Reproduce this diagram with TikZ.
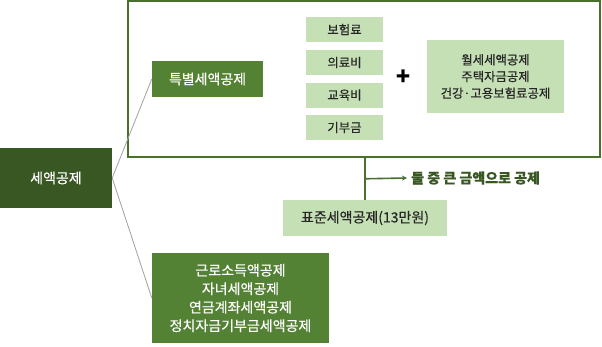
\documentclass[tikz,border=0pt]{standalone}
\usepackage{fontspec}
\setmainfont[FakeBold=0.35]{Noto Sans CJK KR}
\usetikzlibrary{
  arrows.meta,
  positioning,
  calc
}
\definecolor{deepgreen}{RGB}{56,87,35}
\definecolor{midgreen}{RGB}{84,130,53}
\definecolor{palegreen}{RGB}{197,224,180}
\definecolor{framegreen}{RGB}{74,112,46}
\definecolor{linkgray}{RGB}{160,160,160}
\definecolor{inkgray}{RGB}{38,38,38}

\begin{document}
\begin{tikzpicture}[>=Stealth, x=1pt, y=-1pt]

  \useasboundingbox (0,0) rectangle (602,346);

  \tikzset{
    darkbox/.style={
      fill=deepgreen, text=white, inner sep=0pt, align=center,
      font=\fontsize{14}{18.5}\selectfont
    },
    greenbox/.style={
      fill=midgreen, text=white, inner sep=0pt, align=center,
      font=\fontsize{14}{18.5}\selectfont
    },
    itembox/.style={
      fill=palegreen, text=inkgray, inner sep=0pt, align=center,
      minimum width=77pt, minimum height=25pt,
      font=\fontsize{12.4}{16.7}\selectfont
    },
    link/.style={linkgray, line width=0.8pt}
  }

  % ---- Root ----
  \node[darkbox, minimum width=112pt, minimum height=60pt] (tax) at (56,178)
    {세액공제};

  % ---- Frame with special deductions ----
  \node[draw=framegreen, line width=1.5pt, minimum width=472pt,
        minimum height=156pt] (frame) at (364,79) {};

  \node[greenbox, minimum width=111pt, minimum height=36pt] (special)
    at (207.5,79) {특별세액공제};

  \node[itembox] (insur) at (344.5,29.5) {보험료};
  \node[itembox] (medic) at (344.5,62.5) {의료비};
  \node[itembox] (edu)   at (344.5,95)   {교육비};
  \node[itembox] (gift)  at (344.5,127.5) {기부금};

  \node[font=\fontsize{23}{23}\selectfont\bfseries, inner sep=0pt] (plus)
    at (403,77) {+};

  \node[itembox, minimum width=137pt, minimum height=73pt] (extra)
    at (495.5,76.5) {월세세액공제\\주택자금공제\\건강·고용보험료공제};

  % ---- Standard deduction ----
  \node[itembox, minimum width=164pt, minimum height=36pt,
        font=\fontsize{14}{16}\selectfont] (std) at (365,218)
    {표준세액공제(13만원)};

  \coordinate (branch) at ($(frame.south -| std.north)!0.5!(std.north)$);
  \draw[framegreen, line width=1.8pt] (frame.south -| std.north) -- (std.north);

  \node[anchor=west, inner sep=4pt, text=deepgreen,
        font=\fontsize{14}{16}\selectfont\bfseries] (note) at (407,178)
    {둘 중 큰 금액으로 공제};
  \draw[-{Stealth[length=5pt, width=5pt]}, framegreen, line width=1.6pt]
    (branch) -- (note.west);

  % ---- Other credits ----
  \node[greenbox, minimum width=177pt, minimum height=90pt] (other)
    at (240.5,298)
    {근로소득액공제\\자녀세액공제\\연금계좌세액공제\\정치자금기부금세액공제};

  % ---- Links from root ----
  \draw[link] (tax.east) -- (special.west);
  \draw[link] (tax.east) -- (other.west);

\end{tikzpicture}
\end{document}
